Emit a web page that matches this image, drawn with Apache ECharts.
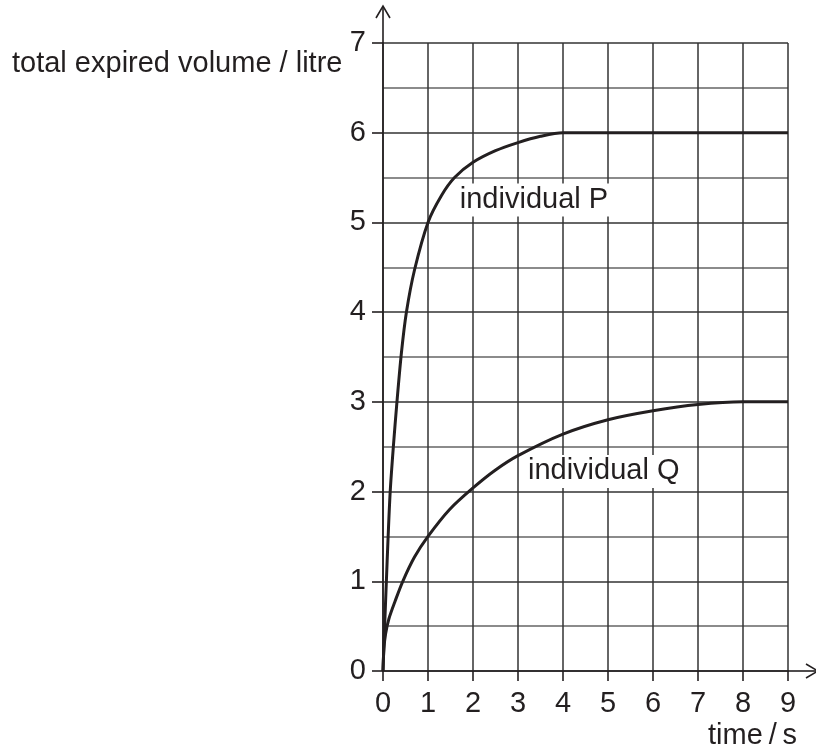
<!DOCTYPE html>
<html>
<head>
<meta charset="utf-8">
<script src="https://cdn.jsdelivr.net/npm/echarts@6/dist/echarts.min.js"></script>
<style>
html,body{margin:0;padding:0;background:#fff;}
#c{width:816px;height:749px;}
</style>
</head>
<body>
<div id="c"></div>
<script>
// time / s
const xTicks = [0,1,2,3,4,5,6,7,8,9];
const yTicks = [0,1,2,3,4,5,6,7];
// individual P: [time, volume]
const seriesP = [
  [0,0],[0.04,0.55],[0.075,1.0],[0.11,1.45],[0.16,2.0],[0.23,2.5],[0.31,3.0],
  [0.41,3.55],[0.52,4.0],[0.70,4.47],[1.0,5.0],[1.3,5.3],[1.59,5.5],
  [2.0,5.67],[2.5,5.8],[3.0,5.89],[3.5,5.96],[4.0,6.0],[9.0,6.0]
];
// individual Q: [time, volume]
const seriesQ = [
  [0,0],[0.02,0.25],[0.06,0.42],[0.13,0.58],[0.27,0.78],[0.44,1.0],[0.7,1.27],[1.0,1.5],
  [1.48,1.8],[2.0,2.04],[2.5,2.24],[3.0,2.4],[4.0,2.64],[5.0,2.8],[6.0,2.9],
  [7.0,2.97],[8.0,3.0],[9.0,3.0]
];
const labelP = 'individual P';
const labelQ = 'individual Q';
const yName = 'total expired volume / litre';
const xName = 'time\u2009/\u2009s';

const INK = '#231f20';
const FONT = '"Liberation Sans", Arial, Helvetica, sans-serif';
const FS = 29;

const chart = echarts.init(document.getElementById('c'), null, {renderer:'canvas'});
const option = {
  backgroundColor:'#fff',
  animation:false,
  grid:{left:383, right:28, top:43, bottom:78, containLabel:false},
  xAxis:{
    type:'value', min:xTicks[0], max:xTicks[xTicks.length-1], interval:1,
    axisLine:{show:true, onZero:false, lineStyle:{color:INK, width:1.6}},
    axisTick:{show:true, length:10, inside:false, lineStyle:{color:INK, width:1.6}},
    axisLabel:{show:true, margin:18, color:INK, fontSize:FS, fontFamily:FONT,
      formatter:v => xTicks.includes(v) ? String(v) : ''},
    splitLine:{show:true, lineStyle:{color:'#333', width:1.5}},
    minorTick:{show:false}, minorSplitLine:{show:false}
  },
  yAxis:{
    type:'value', min:yTicks[0], max:yTicks[yTicks.length-1], interval:1,
    axisLine:{show:true, onZero:false, lineStyle:{color:INK, width:1.6}},
    axisTick:{show:true, length:11, inside:false, lineStyle:{color:INK, width:1.6}},
    axisLabel:{show:true, margin:17, color:INK, fontSize:FS, fontFamily:FONT,
      formatter:v => yTicks.includes(v) ? String(v) : ''},
    splitLine:{show:true, lineStyle:{color:'#333', width:1.5}},
    minorTick:{show:false, splitNumber:2},
    minorSplitLine:{show:true, lineStyle:{color:'#666', width:1.5}}
  },
  series:[
    {
      type:'line', name:labelP, data:seriesP, showSymbol:false, symbol:'none',
      smooth:0.3,
      lineStyle:{color:INK, width:3}, z:5,
      markPoint:{
        symbol:'rect', symbolSize:0, silent:true,
        data:[{coord:[1.64,5.25], value:labelP}],
        label:{show:true, position:'inside', align:'left', verticalAlign:'middle',
          formatter:labelP, color:INK, fontSize:FS, fontFamily:FONT,
          backgroundColor:'#fff', padding:[2,3,2,3]}
      }
    },
    {
      type:'line', name:labelQ, data:seriesQ, showSymbol:false, symbol:'none',
      smooth:0.3,
      lineStyle:{color:INK, width:3}, z:5,
      markPoint:{
        symbol:'rect', symbolSize:0, silent:true,
        data:[{coord:[3.11,2.225], value:labelQ}],
        label:{show:true, position:'inside', align:'left', verticalAlign:'middle',
          formatter:labelQ, color:INK, fontSize:FS, fontFamily:FONT,
          backgroundColor:'#fff', padding:[2,5,2,5]}
      }
    }
  ]
};
chart.setOption(option);

// axis extensions with open arrowheads, and axis titles
const pO = chart.convertToPixel({gridIndex:0}, [xTicks[0], yTicks[0]]);
const pTop = chart.convertToPixel({gridIndex:0}, [xTicks[0], yTicks[yTicks.length-1]]);
const pRight = chart.convertToPixel({gridIndex:0}, [xTicks[xTicks.length-1], yTicks[0]]);
const ax = pO[0], ay = pO[1];
const yTipY = 6, xTipX = 818;
chart.setOption({
  graphic:[
    {type:'line', shape:{x1:ax, y1:pTop[1], x2:ax, y2:yTipY}, style:{stroke:INK, lineWidth:1.6}, z:10},
    {type:'polyline', shape:{points:[[ax-7,yTipY+12],[ax,yTipY],[ax+7,yTipY+12]]}, style:{stroke:INK, fill:null, lineWidth:1.6}, z:10},
    {type:'line', shape:{x1:pRight[0], y1:ay, x2:xTipX, y2:ay}, style:{stroke:INK, lineWidth:1.6}, z:10},
    {type:'polyline', shape:{points:[[xTipX-12,ay-7],[xTipX,ay],[xTipX-12,ay+7]]}, style:{stroke:INK, fill:null, lineWidth:1.6}, z:10},
    {type:'text', left:12, top:49, style:{text:yName, fill:INK, font:FS + 'px ' + FONT}, z:10},
    {type:'text', right:19, top:721, style:{text:xName, fill:INK, font:FS + 'px ' + FONT}, z:10}
  ]
});
</script>
</body>
</html>
